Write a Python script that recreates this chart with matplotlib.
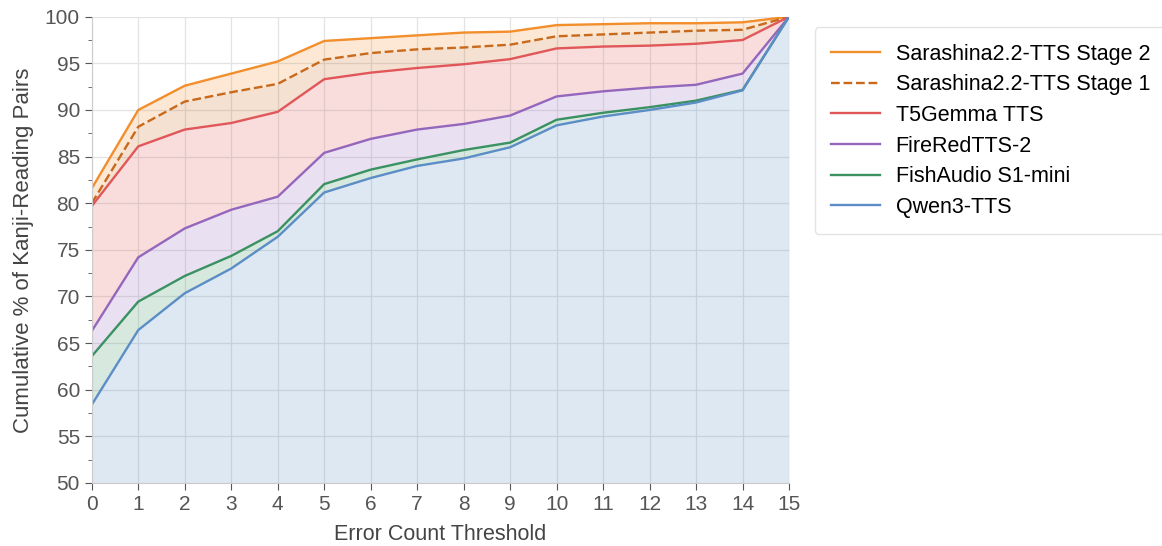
import numpy as np
import matplotlib
matplotlib.use("Agg")
import matplotlib.pyplot as plt
from matplotlib.ticker import MultipleLocator

plt.rcParams['font.family'] = ['Liberation Sans', 'DejaVu Sans']

thresholds = list(range(16))
stage2 = [81.6, 90.0, 92.6, 93.9, 95.2, 97.4, 97.7, 98.0, 98.3, 98.4, 99.1, 99.2, 99.3, 99.3, 99.4, 100.0]
stage1 = [80.0, 88.2, 90.9, 91.9, 92.8, 95.4, 96.1, 96.5, 96.7, 97.0, 97.9, 98.1, 98.3, 98.5, 98.6, 100.0]
t5gemma = [79.7, 86.1, 87.9, 88.6, 89.8, 93.3, 94.0, 94.5, 94.9, 95.45, 96.6, 96.8, 96.9, 97.1, 97.5, 100.0]
firered = [66.3, 74.2, 77.3, 79.3, 80.7, 85.4, 86.9, 87.9, 88.5, 89.4, 91.45, 92.0, 92.4, 92.7, 93.9, 100.0]
fishaudio = [63.6, 69.45, 72.2, 74.35, 77.0, 82.05, 83.6, 84.7, 85.7, 86.5, 88.95, 89.7, 90.3, 91.0, 92.15, 100.0]
qwen3 = [58.4, 66.4, 70.35, 73.0, 76.4, 81.15, 82.7, 84.0, 84.8, 86.0, 88.35, 89.3, 90.0, 90.8, 92.1, 100.0]

labels = ["Sarashina2.2-TTS Stage 2", "Sarashina2.2-TTS Stage 1", "T5Gemma TTS",
          "FireRedTTS-2", "FishAudio S1-mini", "Qwen3-TTS"]
series = [stage2, stage1, t5gemma, firered, fishaudio, qwen3]
colors = ["#F28E2B", "#C8691C", "#E15759", "#9467BD", "#3A9162", "#5B8DC6"]
styles = ["-", "--", "-", "-", "-", "-"]

fig = plt.figure(figsize=(11.62, 5.46), dpi=100)
ax = fig.add_axes([0.079, 0.1154, 0.6, 0.854])

x = np.array(thresholds)
# each band is filled from a line down to the next one below it
for i, (vals, c) in enumerate(zip(series, colors)):
    lower = series[i + 1] if i + 1 < len(series) else [50] * len(vals)
    ax.fill_between(x, vals, lower, color=c, alpha=0.2, linewidth=0)
for vals, c, ls, lab in zip(series, colors, styles, labels):
    ax.plot(x, vals, color=c, linestyle=ls, linewidth=1.7, label=lab)

ax.set_xlim(0, 15)
ax.set_ylim(50, 100)
ax.set_xticks(thresholds)
ax.yaxis.set_major_locator(MultipleLocator(5))
ax.yaxis.set_minor_locator(MultipleLocator(2.5))
ax.grid(True, which='major', color='#e3e3e3', linewidth=0.9)
ax.set_axisbelow(True)
for s in ['top', 'right']:
    ax.spines[s].set_visible(False)
for s in ['left', 'bottom']:
    ax.spines[s].set_color('#cccccc')
ax.tick_params(axis='both', which='major', labelsize=15, colors='#555555', length=5, direction='out')
ax.tick_params(axis='y', which='minor', length=3, colors='#555555')
ax.set_xlabel("Error Count Threshold", fontsize=15.5, color='#444444', labelpad=7)
ax.set_ylabel("Cumulative % of Kanji-Reading Pairs", fontsize=16, color='#444444', labelpad=8)

leg = ax.legend(loc='upper left', bbox_to_anchor=(1.037, 0.977), borderaxespad=0,
                fontsize=15.5, frameon=True, handlelength=2.3, borderpad=0.75,
                labelspacing=0.45, handletextpad=0.7)
leg.get_frame().set_edgecolor('#dddddd')
leg.get_frame().set_linewidth(1.0)

fig.savefig("out.png", dpi=100)
